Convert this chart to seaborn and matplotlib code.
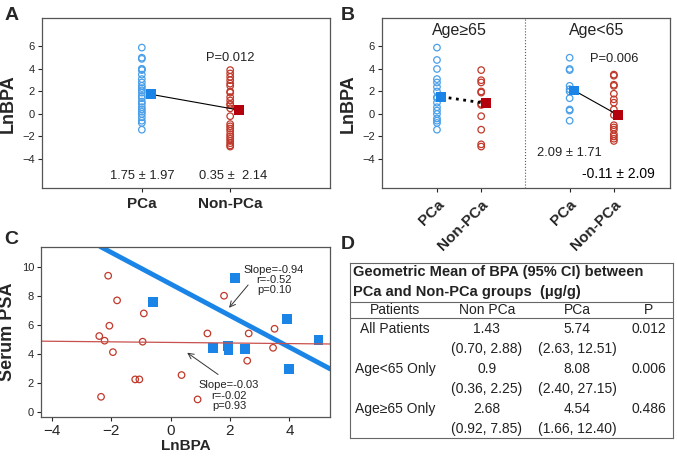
import pandas as pd
import matplotlib.pyplot as plt
import seaborn as sns

# ---- data ----
groups = ['PCa', 'Non-PCa']

# panel A: LnBPA of all patients
a_pca = [5.9, 5.0, 4.9, 4.0, 4.0, 3.9, 3.5, 3.1, 2.8, 2.5, 2.3, 2.1, 1.9, 1.6,
         1.4, 1.1, 0.9, 0.6, 0.4, 0.2, 0.0, -0.3, -0.6, -0.8, -1.4]
a_non = [3.9, 3.6, 3.3, 3.0, 2.7, 2.5, 2.0, 1.9, 1.5, 1.2, 0.9, 0.8, 0.5, -0.2,
         -0.9, -1.1, -1.3, -1.5, -1.8, -2.0, -2.2, -2.4, -2.6, -2.8, -2.9]
a_means = [1.75, 0.35]

# panel B: split by age
b_old_pca = [5.9, 4.8, 4.0, 3.1, 2.8, 2.4, 2.0, 1.5, 1.4, 1.0, 0.6, 0.3, 0.0,
             -0.4, -0.6, -0.8, -1.4]
b_old_non = [3.9, 3.0, 2.8, 2.0, 1.9, 0.9, 0.8, -0.2, -1.4, -2.7, -2.9]
b_young_pca = [5.0, 4.0, 3.9, 2.5, 2.2, 2.0, 1.4, 0.4, 0.3, -0.6]
b_young_non = [3.5, 3.4, 2.6, 2.5, 1.8, 1.3, 1.0, 0.4, -0.1, -1.0, -1.2, -1.4,
               -1.8, -2.0, -2.2, -2.4]
b_old_means = [1.53, 0.95]
b_young_means = [2.09, -0.11]

# panel C: serum PSA vs LnBPA
c_non_x = [-2.40, -2.22, -2.10, -2.06, -1.94, -1.80, -2.34, -1.19, -1.05, -0.90,
           -0.94, 0.37, 0.91, 1.24, 1.80, 2.58, 2.63, 3.45, 3.50]
c_non_y = [5.22, 4.90, 9.38, 5.93, 4.11, 7.68, 1.03, 2.23, 2.23, 6.78,
           4.83, 2.53, 0.85, 5.40, 8.00, 3.52, 5.40, 4.41, 5.72]
c_pca_x = [-0.60, 1.43, 1.94, 1.95, 2.17, 2.51, 3.91, 3.98, 4.98]
c_pca_y = [7.59, 4.41, 4.55, 4.23, 9.20, 4.30, 6.41, 2.94, 4.94]
pca_fit = (8.81, -1.09)     # intercept, slope of drawn line
non_fit = (4.78, -0.02)

# panel D: table
tbl_title = ['Geometric Mean of BPA (95% CI) between',
             'PCa and Non-PCa groups  (\u03bcg/g)']
tbl_header = ['Patients', 'Non PCa', 'PCa', 'P']
tbl_patients = ['All Patients', 'Age<65 Only', 'Age\u226565 Only']
tbl_non_gm = ['1.43', '0.9', '2.68']
tbl_non_ci = ['(0.70, 2.88)', '(0.36, 2.25)', '(0.92, 7.85)']
tbl_pca_gm = ['5.74', '8.08', '4.54']
tbl_pca_ci = ['(2.63, 12.51)', '(2.40, 27.15)', '(1.66, 12.40)']
tbl_p = ['0.012', '0.006', '0.486']

# ---- style ----
sns.set_style('white')
plt.rcParams['font.family'] = ['Liberation Sans', 'DejaVu Sans']
plt.rcParams['axes.edgecolor'] = '#555555'
plt.rcParams['axes.linewidth'] = 0.9

BLUE_C = '#4a9fe8'
BLUE_S = '#1a85e6'
RED_C = '#c0392b'
RED_S = '#b3000c'
TXT = '#222222'

fig = plt.figure(figsize=(6.77, 4.59), dpi=100)


def strip(ax, pos, vals, color):
    df = pd.DataFrame({'x': [pos] * len(vals), 'y': vals})
    sns.scatterplot(data=df, x='x', y='y', ax=ax, marker='o', s=22,
                    facecolors='none', edgecolor=color, linewidth=0.9)


def means(ax, pos, vals, style, lw):
    df = pd.DataFrame({'x': [p + 0.1 for p in pos], 'y': vals})
    sns.lineplot(data=df, x='x', y='y', ax=ax, color='black', lw=lw,
                 linestyle=style, zorder=3)
    sns.scatterplot(x=df['x'][:1], y=df['y'][:1], ax=ax, marker='s', s=50,
                    color=BLUE_S, edgecolor='none', zorder=4)
    sns.scatterplot(x=df['x'][1:], y=df['y'][1:], ax=ax, marker='s', s=50,
                    color=RED_S, edgecolor='none', zorder=4)


def yaxis_bpa(ax):
    ax.set_ylim(-6.6, 8.5)
    ax.set_yticks([-4, -2, 0, 2, 4, 6])
    ax.set_ylabel('LnBPA', fontsize=13, fontweight='bold', labelpad=4)
    ax.tick_params(axis='y', labelsize=8, length=3, pad=2, left=True)
    ax.tick_params(axis='x', length=3, bottom=True)


# ---- panel A ----
axA = fig.add_axes([0.062, 0.59, 0.4255, 0.37])
strip(axA, 0, a_pca, BLUE_C)
strip(axA, 1, a_non, RED_C)
means(axA, [0, 1], a_means, '-', 0.8)
axA.set_xlim(-1.13, 2.13)
axA.set_xticks([0, 1])
axA.set_xticklabels(groups, fontsize=11, fontweight='bold')
axA.set_xlabel('')
yaxis_bpa(axA)
axA.text(1, 5.0, 'P=0.012', ha='center', va='center', fontsize=9.3, color=TXT)
axA.text(0, -5.55, '1.75 \u00b1 1.97', ha='center', va='center', fontsize=9.3, color=TXT)
axA.text(1.03, -5.55, '0.35 \u00b1  2.14', ha='center', va='center', fontsize=9.3, color=TXT)

# ---- panel B ----
axB = fig.add_axes([0.5638, 0.59, 0.4259, 0.37])
strip(axB, 0, b_old_pca, BLUE_C)
strip(axB, 1, b_old_non, RED_C)
strip(axB, 3, b_young_pca, BLUE_C)
strip(axB, 4, b_young_non, RED_C)
means(axB, [0, 1], b_old_means, ':', 2.0)
means(axB, [3, 4], b_young_means, '-', 0.8)
axB.axvline(2, color='#555555', lw=0.8, linestyle=':')
axB.set_xlim(-1.25, 5.27)
axB.set_xticks([0, 1, 3, 4])
axB.set_xticklabels(groups * 2, fontsize=11, fontweight='bold', rotation=45,
                    ha='right', rotation_mode='anchor')
axB.set_xlabel('')
yaxis_bpa(axB)
axB.text(0.5, 7.4, 'Age\u226565', ha='center', va='center', fontsize=11.5, color=TXT)
axB.text(3.6, 7.4, 'Age<65', ha='center', va='center', fontsize=11.5, color=TXT)
axB.text(4.0, 4.9, 'P=0.006', ha='center', va='center', fontsize=9.3, color=TXT)
axB.text(3.0, -3.5, '2.09 \u00b1 1.71', ha='center', va='center', fontsize=9.3, color=TXT)
axB.text(4.1, -5.3, '-0.11 \u00b1 2.09', ha='center', va='center', fontsize=10, color='black')

# ---- panel C ----
axC = fig.add_axes([0.0606, 0.0922, 0.427, 0.3703])
sns.scatterplot(x=c_non_x, y=c_non_y, ax=axC, marker='o', s=22,
                facecolors='none', edgecolor=RED_C, linewidth=0.9)
sns.scatterplot(x=c_pca_x, y=c_pca_y, ax=axC, marker='s', s=50,
                color=BLUE_S, edgecolor='none')
axC.axline((0, pca_fit[0]), slope=pca_fit[1], color=BLUE_S, lw=3.5)
axC.axline((0, non_fit[0]), slope=non_fit[1], color='#c8504d', lw=0.9)
axC.set_xlim(-4.36, 5.37)
axC.set_ylim(-0.34, 11.38)
axC.set_xticks([-4, -2, 0, 2, 4])
axC.set_yticks([0, 2, 4, 6, 8, 10])
axC.tick_params(axis='x', labelsize=11, length=3, pad=2, bottom=True)
axC.tick_params(axis='y', labelsize=8, length=3, pad=2, left=True)
axC.set_xlabel('LnBPA', fontsize=11, fontweight='bold', labelpad=1)
axC.set_ylabel('Serum PSA', fontsize=13, fontweight='bold', labelpad=4)
arrow = dict(arrowstyle='->', color='#333333', lw=0.7, shrinkA=0, shrinkB=0)
axC.text(3.48, 9.08, 'Slope=-0.94\nr=-0.52\np=0.10', ha='center', va='center',
         fontsize=8, color=TXT, linespacing=1.05)
axC.annotate('', xy=(1.97, 7.17), xytext=(2.61, 8.74), arrowprops=arrow)
axC.text(1.97, 1.10, 'Slope=-0.03\nr=-0.02\np=0.93', ha='center', va='center',
         fontsize=8, color=TXT, linespacing=1.05)
axC.annotate('', xy=(0.56, 4.07), xytext=(1.60, 2.57), arrowprops=arrow)

# ---- panel D ----
axD = fig.add_axes([0.517, 0.045, 0.4775, 0.3827])
axD.set_xlim(0, 1)
axD.set_ylim(0, 1)
axD.set_xticks([])
axD.set_yticks([])
for s in axD.spines.values():
    s.set_color('#666666')
    s.set_linewidth(0.8)
axD.text(0.008, 0.945, tbl_title[0], fontsize=10.5, fontweight='bold', va='center', color=TXT)
axD.text(0.008, 0.835, tbl_title[1], fontsize=10.5, fontweight='bold', va='center', color=TXT)
axD.axhline(0.776, color='#666666', lw=0.8)
axD.axhline(0.683, color='#666666', lw=0.8)
cols = [0.139, 0.423, 0.703, 0.923]
fs = 10
for cx, h in zip(cols, tbl_header):
    axD.text(cx, 0.732, h, ha='center', va='center', fontsize=fs, color=TXT)
rows = [0.622, 0.394, 0.167]
for i, ry in enumerate(rows):
    axD.text(cols[0], ry, tbl_patients[i], ha='center', va='center', fontsize=fs, color=TXT)
    axD.text(cols[1], ry, tbl_non_gm[i], ha='center', va='center', fontsize=fs, color=TXT)
    axD.text(cols[2], ry, tbl_pca_gm[i], ha='center', va='center', fontsize=fs, color=TXT)
    axD.text(cols[3], ry, tbl_p[i], ha='center', va='center', fontsize=fs, color=TXT)
    axD.text(cols[1], ry - 0.113, tbl_non_ci[i], ha='center', va='center', fontsize=fs, color=TXT)
    axD.text(cols[2], ry - 0.113, tbl_pca_ci[i], ha='center', va='center', fontsize=fs, color=TXT)

# panel letters
for lbl, x, y in [('A', 0.006, 0.985), ('B', 0.503, 0.985),
                  ('C', 0.006, 0.497), ('D', 0.503, 0.485)]:
    fig.text(x, y, lbl, fontsize=14, fontweight='bold', va='top', ha='left')

fig.savefig('out.png', dpi=100)
